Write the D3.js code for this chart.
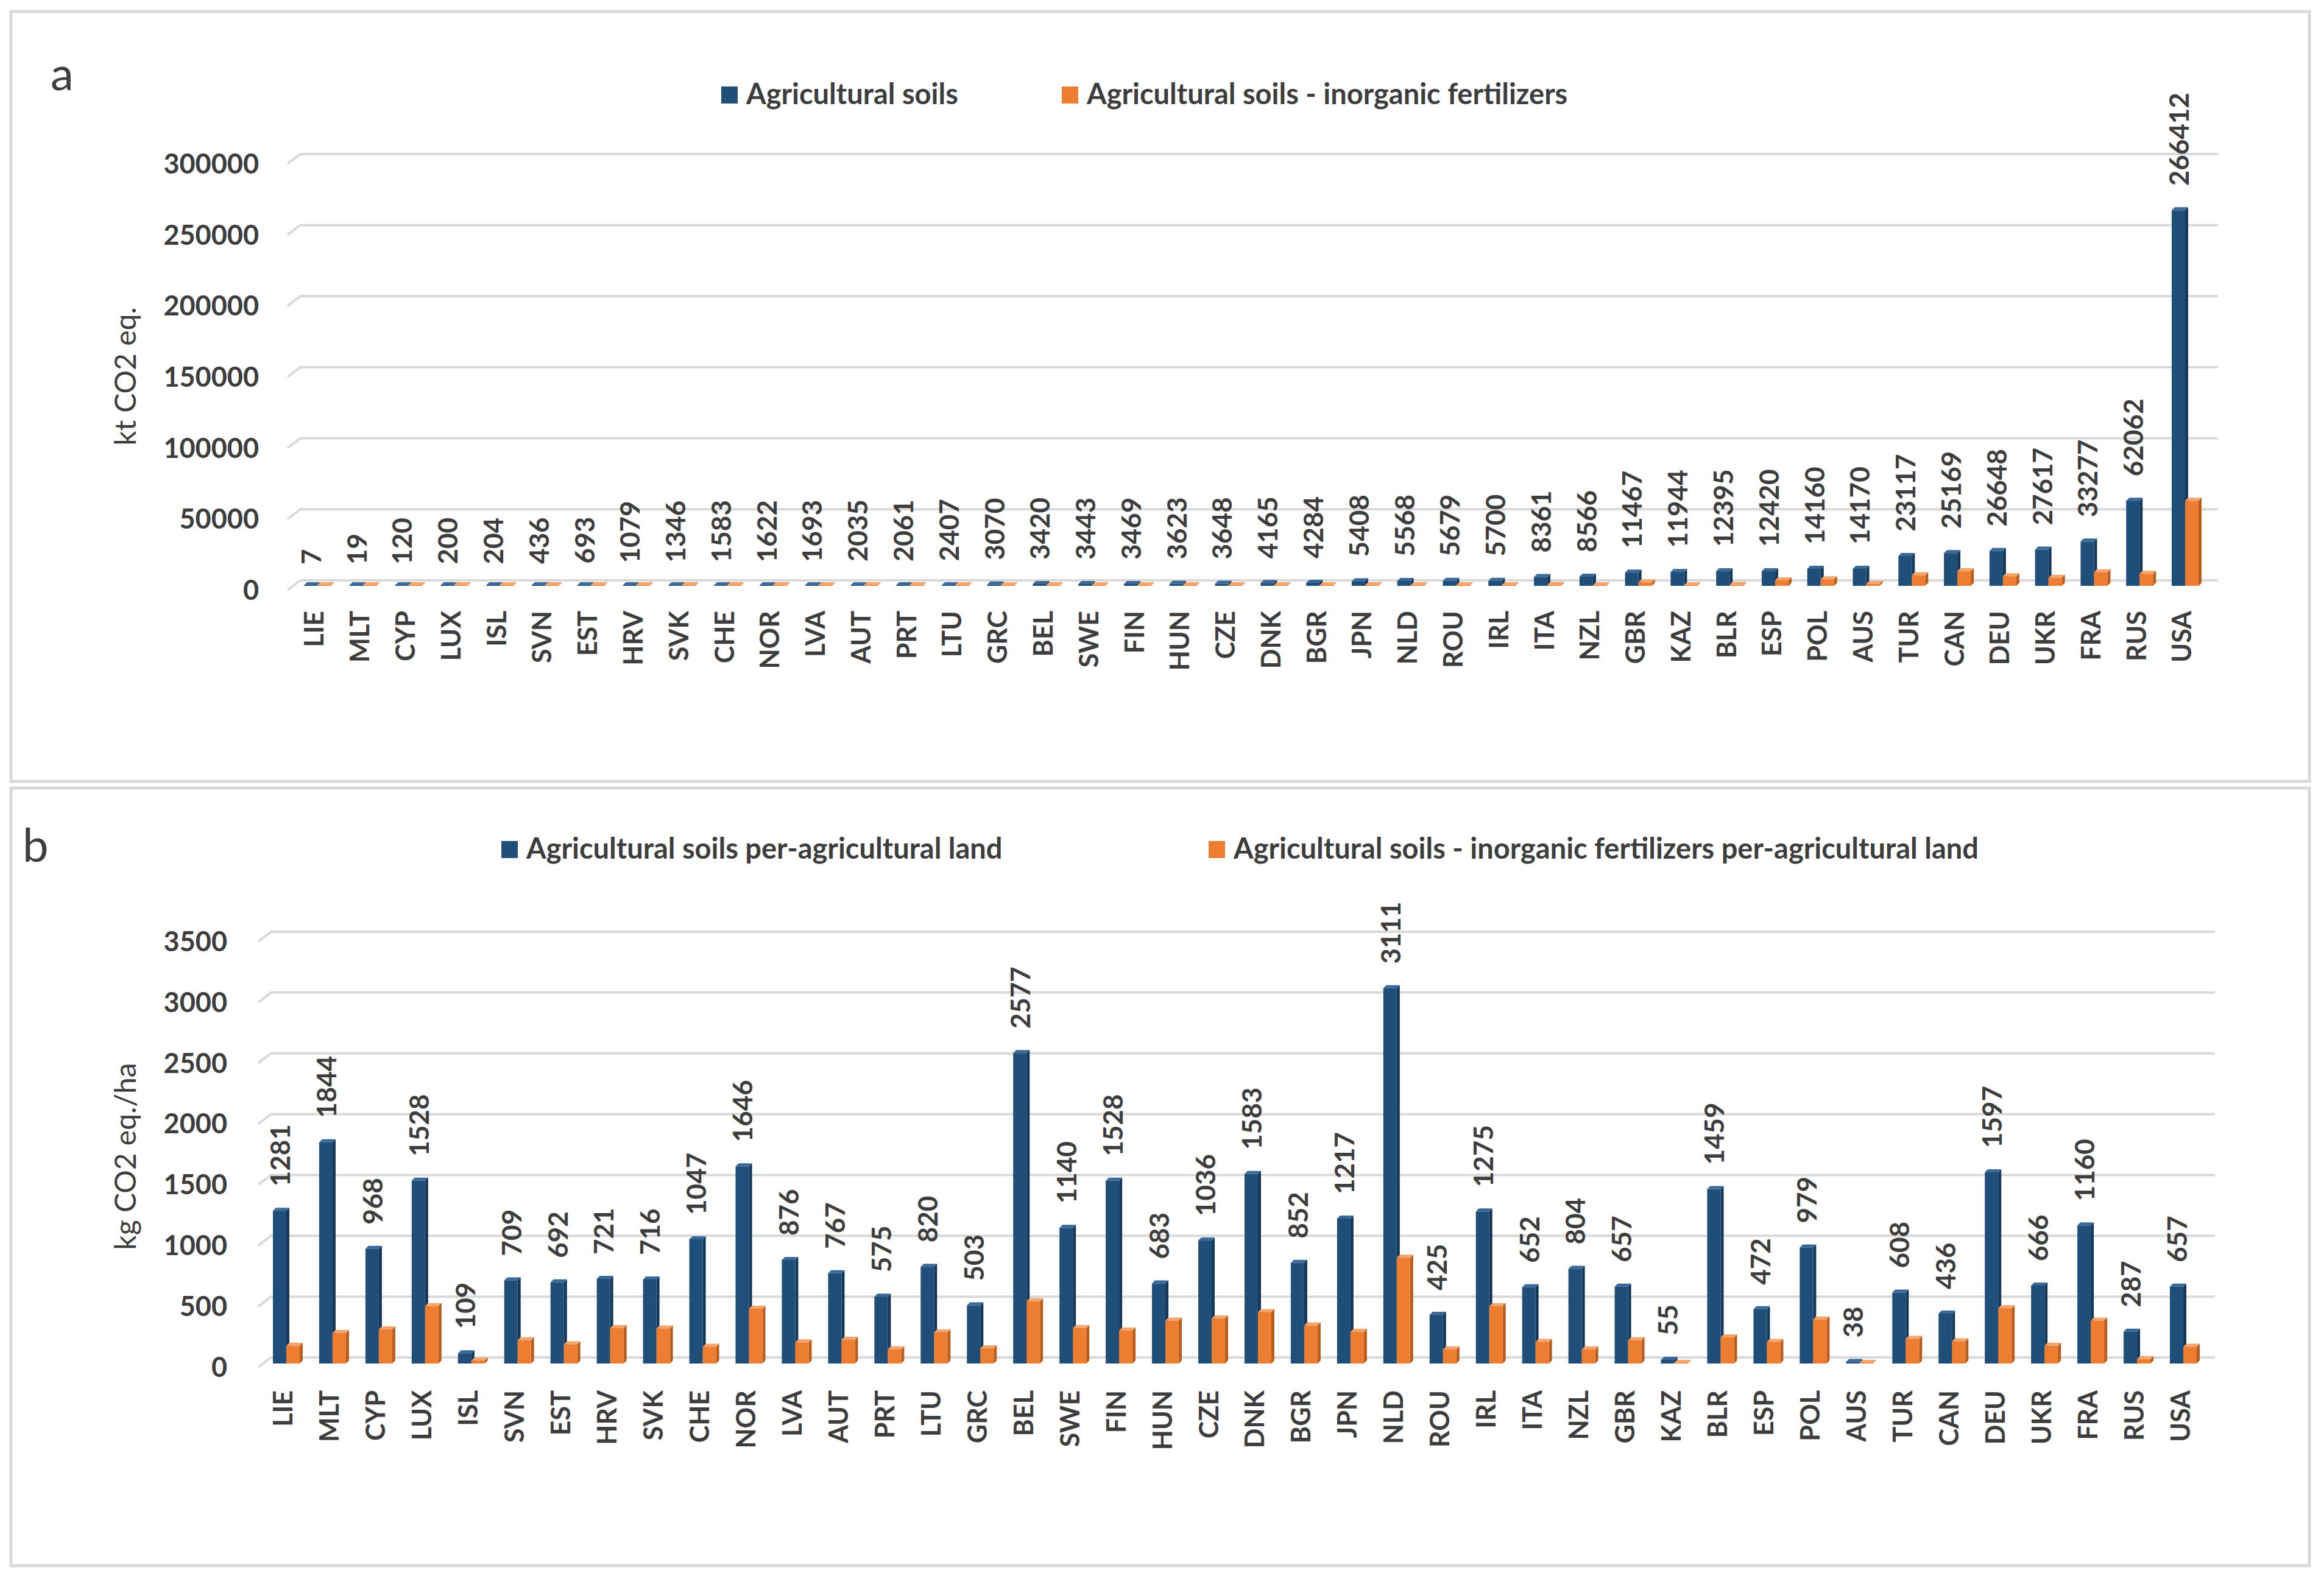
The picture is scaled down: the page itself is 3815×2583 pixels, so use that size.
<!DOCTYPE html>
<html>
<head>
<meta charset="utf-8">
<script src="https://cdn.jsdelivr.net/npm/d3@7"></script>
<style>
  html, body { margin: 0; padding: 0; background: #fff; }
  svg text { font-family: Lato, "Open Sans", sans-serif; fill: #3d3d3d; }
</style>
</head>
<body>
<div id="chart"></div>
<script>
// country codes, same order in both panels
const countries = ["LIE","MLT","CYP","LUX","ISL","SVN","EST","HRV","SVK","CHE","NOR","LVA","AUT","PRT","LTU","GRC",
  "BEL","SWE","FIN","HUN","CZE","DNK","BGR","JPN","NLD","ROU","IRL","ITA","NZL","GBR","KAZ","BLR","ESP","POL",
  "AUS","TUR","CAN","DEU","UKR","FRA","RUS","USA"];

// panel a : kt CO2 eq.
const soilsTotal = [7,19,120,200,204,436,693,1079,1346,1583,1622,1693,2035,2061,2407,3070,3420,3443,3469,3623,3648,
  4165,4284,5408,5568,5679,5700,8361,8566,11467,11944,12395,12420,14160,14170,23117,25169,26648,27617,33277,62062,266412];
const soilsFertTotal = [1,3,38,65,92,133,183,474,588,246,469,385,584,509,825,915,713,957,674,2005,1391,1179,1700,1266,
  1602,1897,2222,2800,1800,4600,1500,2800,6000,6700,3500,9600,12400,8900,7800,11700,10600,62000];

// panel b : kg CO2 eq./ha
const soilsPerHa = [1281,1844,968,1528,109,709,692,721,716,1047,1646,876,767,575,820,503,2577,1140,1528,683,1036,1583,
  852,1217,3111,425,1275,652,804,657,55,1459,472,979,38,608,436,1597,666,1160,287,657];
const soilsFertPerHa = [171,277,305,497,49,216,183,317,313,163,476,199,220,142,281,150,537,317,297,378,395,448,338,285,
  895,142,497,203,142,216,16,240,203,387,12,228,208,480,171,378,61,163];

const ticksA = [0,50000,100000,150000,200000,250000,300000];
const ticksB = [0,500,1000,1500,2000,2500,3000,3500];

const W = 3815, H = 2583;
const BLUE = { front: "#1f4e79", side: "#15375a", top: "#3a6a9a" };
const ORANGE = { front: "#ed7d31", side: "#b95d1f", top: "#f5a46c" };
const DEPTH = 5;

const svg = d3.select("#chart").append("svg")
  .attr("width", W).attr("height", H)
  .attr("viewBox", `0 0 ${W} ${H}`);

svg.append("rect").attr("width", W).attr("height", H).attr("fill", "#fff");

function drawPanel(cfg) {
  const g = svg.append("g");

  // panel frame
  g.append("rect")
    .attr("x", cfg.frame[0]).attr("y", cfg.frame[1])
    .attr("width", cfg.frame[2]).attr("height", cfg.frame[3])
    .attr("fill", "none").attr("stroke", "#d9d9d9").attr("stroke-width", 5);

  g.append("text").attr("x", cfg.letterPos[0]).attr("y", cfg.letterPos[1])
    .attr("font-size", 76).text(cfg.letter);

  const y = d3.scaleLinear().domain(cfg.domain).range(cfg.yRange);
  const x = d3.scaleBand().domain(countries).range(cfg.xRange);
  const cx = (c) => x(c) + x.bandwidth() / 2;
  // bars sit a little in front of (below) the back-wall gridlines
  const by = (v) => y(v) + cfg.barShift;

  // gridlines on the back wall, with the slanted side-wall piece at the left
  const grid = g.append("g");
  cfg.ticks.forEach((t) => {
    const yy = y(t);
    grid.append("polyline")
      .attr("points", `${cfg.gridX[0] - 21},${yy + 16} ${cfg.gridX[0]},${yy} ${cfg.gridX[1]},${yy}`)
      .attr("fill", "none").attr("stroke", "#d9d9d9").attr("stroke-width", 4);
  });

  // y axis via d3.axisLeft, restyled
  const yAxis = g.append("g")
    .attr("transform", `translate(${cfg.tickX},17)`)
    .call(d3.axisLeft(y).tickValues(cfg.ticks).tickSize(0).tickPadding(0).tickFormat(d3.format("d")));
  yAxis.select(".domain").remove();
  yAxis.selectAll("text")
    .attr("font-size", 45).attr("font-weight", 700)
    .style("font-family", "Lato, sans-serif").attr("fill", "#3d3d3d");

  g.append("text")
    .attr("transform", `translate(${cfg.titlePos[0]},${cfg.titlePos[1]}) rotate(-90)`)
    .attr("text-anchor", "middle").attr("dominant-baseline", "middle")
    .attr("font-size", 48).text(cfg.yTitle);

  // bars
  function bar3d(sel, x0, w, v, col) {
    const base = by(0);
    const top = Math.min(by(v) + DEPTH, base - 1);
    sel.append("polygon")
      .attr("points", `${x0 + w},${top} ${x0 + w + DEPTH},${top - DEPTH} ${x0 + w + DEPTH},${base - DEPTH} ${x0 + w},${base}`)
      .attr("fill", col.side);
    sel.append("polygon")
      .attr("points", `${x0},${top} ${x0 + DEPTH},${top - DEPTH} ${x0 + w + DEPTH},${top - DEPTH} ${x0 + w},${top}`)
      .attr("fill", col.top);
    sel.append("rect")
      .attr("x", x0).attr("y", top).attr("width", w).attr("height", base - top)
      .attr("fill", col.front);
  }

  const bars = g.append("g");
  countries.forEach((c, i) => {
    const bg = bars.append("g");
    bar3d(bg, cx(c) - 17, 22, cfg.s1[i], BLUE);
    bar3d(bg, cx(c) + 5, 22, cfg.s2[i], ORANGE);
  });

  // value labels above blue bars
  g.append("g").selectAll("text")
    .data(countries)
    .join("text")
    .attr("transform", (c, i) => `translate(${cx(c) - 5},${by(cfg.s1[i]) - 35}) rotate(-90)`)
    .attr("text-anchor", "start").attr("dy", "0.36em")
    .attr("font-size", 44).attr("font-weight", 700)
    .text((c, i) => cfg.s1[i]);

  // category labels
  g.append("g").selectAll("text")
    .data(countries)
    .join("text")
    .attr("transform", (c) => `translate(${cx(c)},${cfg.catY}) rotate(-90)`)
    .attr("text-anchor", "end").attr("dy", "0.36em")
    .attr("font-size", 43).attr("font-weight", 700)
    .text((c) => c);

  // legend
  const lg = g.append("g");
  cfg.legend.forEach((item, i) => {
    const col = i === 0 ? BLUE.front : ORANGE.front;
    lg.append("rect")
      .attr("x", item.x).attr("y", cfg.legendY - 29)
      .attr("width", 27).attr("height", 28).attr("fill", col);
    lg.append("text")
      .attr("x", item.x + 41).attr("y", cfg.legendY)
      .attr("font-size", 47).attr("font-weight", 700).text(item.label);
  });
}

drawPanel({
  frame: [18, 19, 3773, 1264],
  letter: "a", letterPos: [83, 148],
  domain: [0, 300000], yRange: [953, 253], ticks: ticksA, barShift: 9,
  xRange: [478.6, 3619.4], gridX: [493, 3641], tickX: 425,
  titlePos: [211, 618], yTitle: "kt CO2 eq.",
  s1: soilsTotal, s2: soilsFertTotal,
  catY: 1003,
  legendY: 171,
  legend: [
    { x: 1184, label: "Agricultural soils" },
    { x: 1743, label: "Agricultural soils - inorganic fertilizers" }
  ]
});

drawPanel({
  frame: [18, 1294, 3773, 1277],
  letter: "b", letterPos: [37, 1415],
  domain: [0, 3500], yRange: [2229, 1530], ticks: ticksB, barShift: 10,
  xRange: [427, 3617], gridX: [445, 3636], tickX: 373,
  titlePos: [211, 1899], yTitle: "kg CO2 eq./ha",
  s1: soilsPerHa, s2: soilsFertPerHa,
  catY: 2283,
  legendY: 1410,
  legend: [
    { x: 823, label: "Agricultural soils per-agricultural land" },
    { x: 1984, label: "Agricultural soils - inorganic fertilizers per-agricultural land" }
  ]
});
</script>
</body>
</html>
